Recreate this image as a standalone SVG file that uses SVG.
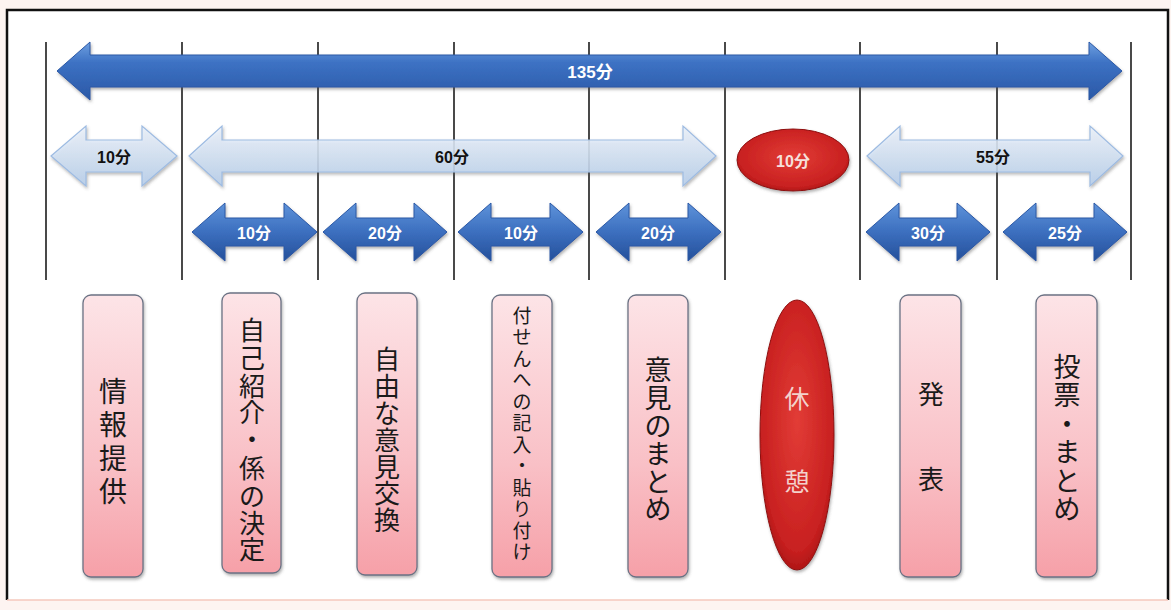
<svg xmlns="http://www.w3.org/2000/svg" width="1171" height="610" viewBox="0 0 1171 610">
<defs>
<linearGradient id="gBig" x1="0" y1="0" x2="0" y2="1">
<stop offset="0" stop-color="#6fa0e0"/><stop offset="0.35" stop-color="#3d72c4"/><stop offset="1" stop-color="#2a58a6"/>
</linearGradient>
<linearGradient id="gDark" x1="0" y1="0" x2="0" y2="1">
<stop offset="0" stop-color="#5e93da"/><stop offset="0.5" stop-color="#3c6fbf"/><stop offset="1" stop-color="#24509a"/>
</linearGradient>
<linearGradient id="gLight" x1="0" y1="0" x2="0" y2="1">
<stop offset="0" stop-color="#eef4fc"/><stop offset="1" stop-color="#b7cfec"/>
</linearGradient>
<linearGradient id="gBox" x1="0" y1="0" x2="0" y2="1">
<stop offset="0" stop-color="#fde4e7"/><stop offset="0.6" stop-color="#f9c0c6"/><stop offset="1" stop-color="#f6a0a8"/>
</linearGradient>
<radialGradient id="gRed" cx="0.5" cy="0.45" r="0.6">
<stop offset="0" stop-color="#e23c36"/><stop offset="0.8" stop-color="#c82020"/><stop offset="1" stop-color="#9e1010"/>
</radialGradient>
<filter id="sh" x="-20%" y="-20%" width="140%" height="140%">
<feDropShadow dx="1" dy="2" stdDeviation="1.5" flood-color="#555" flood-opacity="0.45"/>
</filter>
</defs>
<style>
.big{fill:url(#gBig);stroke:#2a58a6;stroke-width:1;filter:url(#sh)}
.dark{fill:url(#gDark);stroke:#2a58a6;stroke-width:1;filter:url(#sh)}
.light{fill:url(#gLight);fill-opacity:0.85;stroke:#9dbbe2;stroke-width:1.2;filter:url(#sh)}
.box{fill:url(#gBox);stroke:#6b7284;stroke-width:1.3;filter:url(#sh)}
.grid line{stroke:#1c1c1c;stroke-width:1.6}
.num{font-family:"Liberation Sans","Noto Sans CJK JP",sans-serif;font-weight:bold;text-anchor:middle;dominant-baseline:central}
.w{fill:#ffffff;font-size:16px}
.k{fill:#111111;font-size:16px}
.vt{font-family:"Noto Sans CJK JP",sans-serif;fill:#1a1a1a;text-anchor:middle;dominant-baseline:central}
</style>
<rect x="0" y="0" width="1171" height="610" fill="#fdf4f1"/>
<rect x="7" y="10" width="1161" height="590" fill="#ffffff"/>
<path d="M7,600 V10 H1168 V600" fill="none" stroke="#111" stroke-width="2.5"/>
<line x1="7" y1="600" x2="1168" y2="600" stroke="#f4c9bd" stroke-width="1.5"/>

<g class="grid" id="grid">
<line x1="46" y1="42" x2="46" y2="280"/>
<line x1="182" y1="42" x2="182" y2="280"/>
<line x1="318" y1="42" x2="318" y2="280"/>
<line x1="454" y1="42" x2="454" y2="280"/>
<line x1="589" y1="42" x2="589" y2="280"/>
<line x1="725" y1="42" x2="725" y2="280"/>
<line x1="860" y1="42" x2="860" y2="280"/>
<line x1="997" y1="42" x2="997" y2="280"/>
<line x1="1131" y1="42" x2="1131" y2="280"/>
</g>

<g id="connectors">
<g id="arrow-135">
<path class="big" d="M57,71 L90,42 L90,55 L1089,55 L1089,42 L1122,71 L1089,100 L1089,87 L90,87 L90,100 Z"/>
<text class="num w" x="590" y="72" style="font-size:17px">135分</text>
</g>
<g id="arrow-10a">
<path class="light" d="M51,156 L86,126 L86,140 L142,140 L142,126 L177,156 L142,186 L142,172 L86,172 L86,186 Z"/>
<text class="num k" x="114" y="157">10分</text>
</g>
<g id="arrow-60">
<path class="light" d="M189,156 L222,126 L222,140 L683,140 L683,126 L716,156 L683,186 L683,172 L222,172 L222,186 Z"/>
<text class="num k" x="452" y="157">60分</text>
</g>
<g id="arrow-55">
<path class="light" d="M867,156 L900,126 L900,140 L1090,140 L1090,126 L1123,156 L1090,186 L1090,172 L900,172 L900,186 Z"/>
<text class="num k" x="993" y="157">55分</text>
</g>
<g id="arrow-10b">
<path class="dark" d="M192,232 L225,203 L225,218 L284,218 L284,203 L317,232 L284,261 L284,246 L225,246 L225,261 Z"/>
<text class="num w" x="254" y="233">10分</text>
</g>
<g id="arrow-20a">
<path class="dark" d="M323,232 L356,203 L356,218 L414,218 L414,203 L447,232 L414,261 L414,246 L356,246 L356,261 Z"/>
<text class="num w" x="385" y="233">20分</text>
</g>
<g id="arrow-10c">
<path class="dark" d="M458,232 L491,203 L491,218 L550,218 L550,203 L583,232 L550,261 L550,246 L491,246 L491,261 Z"/>
<text class="num w" x="521" y="233">10分</text>
</g>
<g id="arrow-20b">
<path class="dark" d="M596,232 L629,203 L629,218 L688,218 L688,203 L721,232 L688,261 L688,246 L629,246 L629,261 Z"/>
<text class="num w" x="658" y="233">20分</text>
</g>
<g id="arrow-30">
<path class="dark" d="M866,232 L899,203 L899,218 L957,218 L957,203 L990,232 L957,261 L957,246 L899,246 L899,261 Z"/>
<text class="num w" x="928" y="233">30分</text>
</g>
<g id="arrow-25">
<path class="dark" d="M1003,232 L1036,203 L1036,218 L1094,218 L1094,203 L1127,232 L1094,261 L1094,246 L1036,246 L1036,261 Z"/>
<text class="num w" x="1065" y="233">25分</text>
</g>
</g>

<g id="break-10">
<ellipse cx="793" cy="160" rx="56" ry="31" fill="url(#gRed)" stroke="#8e1010" stroke-width="1" filter="url(#sh)"/>
<text class="num" x="793" y="161" fill="#f6e0dc" font-size="16">10分</text>
</g>

<g id="node-1">
<rect class="box" x="83" y="295" width="60" height="282" rx="8"/>
<text class="vt" font-size="28"><tspan x="113" y="390">情</tspan><tspan x="113" y="423">報</tspan><tspan x="113" y="457">提</tspan><tspan x="113" y="490">供</tspan></text>
</g>
<g id="node-2">
<rect class="box" x="222" y="293" width="59" height="280" rx="8"/>
<text class="vt" font-size="26"><tspan x="252" y="328">自</tspan><tspan x="252" y="356">己</tspan><tspan x="252" y="384">紹</tspan><tspan x="252" y="410">介</tspan><tspan x="252" y="437">・</tspan><tspan x="252" y="466">係</tspan><tspan x="252" y="494">の</tspan><tspan x="252" y="521">決</tspan><tspan x="252" y="547">定</tspan></text>
</g>
<g id="node-3">
<rect class="box" x="357" y="293" width="60" height="282" rx="8"/>
<text class="vt" font-size="26"><tspan x="387" y="357">自</tspan><tspan x="387" y="384">由</tspan><tspan x="387" y="411">な</tspan><tspan x="387" y="438">意</tspan><tspan x="387" y="465">見</tspan><tspan x="387" y="491">交</tspan><tspan x="387" y="518">換</tspan></text>
</g>
<g id="node-4">
<rect class="box" x="492" y="295" width="60" height="282" rx="8"/>
<text class="vt" font-size="19"><tspan x="522" y="314">付</tspan><tspan x="522" y="335">せ</tspan><tspan x="522" y="357">ん</tspan><tspan x="522" y="378">へ</tspan><tspan x="522" y="400">の</tspan><tspan x="522" y="421">記</tspan><tspan x="522" y="443">入</tspan><tspan x="522" y="464">・</tspan><tspan x="522" y="486">貼</tspan><tspan x="522" y="507">り</tspan><tspan x="522" y="529">付</tspan><tspan x="522" y="550">け</tspan></text>
</g>
<g id="node-5">
<rect class="box" x="628" y="295" width="60" height="282" rx="8"/>
<text class="vt" font-size="27"><tspan x="658" y="368">意</tspan><tspan x="658" y="396">見</tspan><tspan x="658" y="424">の</tspan><tspan x="658" y="452">ま</tspan><tspan x="658" y="480">と</tspan><tspan x="658" y="507">め</tspan></text>
</g>
<g id="node-break">
<ellipse cx="797" cy="435" rx="37" ry="135" fill="url(#gRed)" stroke="#8e1010" stroke-width="1" filter="url(#sh)"/>
<text class="vt" font-size="25" style="fill:#f3d2cc"><tspan x="797" y="397">休</tspan><tspan x="797" y="480">憩</tspan></text>
</g>
<g id="node-6">
<rect class="box" x="900" y="295" width="61" height="282" rx="8"/>
<text class="vt" font-size="26"><tspan x="931" y="392">発</tspan><tspan x="931" y="477">表</tspan></text>
</g>
<g id="node-7">
<rect class="box" x="1036" y="295" width="61" height="282" rx="8"/>
<text class="vt" font-size="27"><tspan x="1067" y="365">投</tspan><tspan x="1067" y="393">票</tspan><tspan x="1067" y="422">・</tspan><tspan x="1067" y="450">ま</tspan><tspan x="1067" y="479">と</tspan><tspan x="1067" y="507">め</tspan></text>
</g>
</svg>
